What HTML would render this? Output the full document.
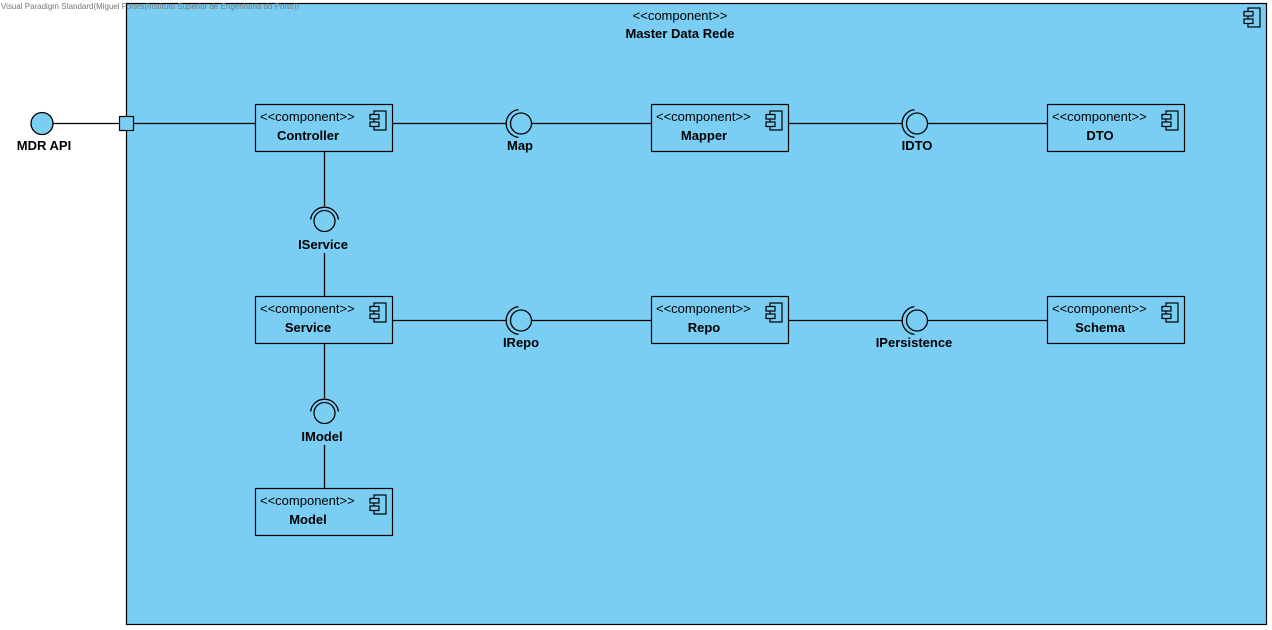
<!DOCTYPE html>
<html><head><meta charset="utf-8"><style>
html,body{margin:0;padding:0;background:#fff;}
svg{display:block;font-family:"Liberation Sans",Arial,sans-serif;}
</style></head><body>
<svg width="1272" height="630" viewBox="0 0 1272 630" xmlns="http://www.w3.org/2000/svg">
<defs>
<g id="ic">
<rect x="4" y="0" width="12" height="19" fill="none" stroke="#000" stroke-width="1.2"/>
<rect x="0" y="3.5" width="9" height="4.5" fill="#7acef4" stroke="#000" stroke-width="1.2"/>
<rect x="0" y="11" width="9" height="4.5" fill="#7acef4" stroke="#000" stroke-width="1.2"/>
</g>
<g id="hsock">
<path d="M -1.5 -13.9 A 14 14 0 0 0 -1.5 13.9" fill="none" stroke="#000" stroke-width="1.3"/>
<circle cx="1" cy="0" r="10.5" fill="#7acef4" stroke="#000" stroke-width="1.3"/>
</g>
<g id="vsock">
<path d="M -13.9 1.5 A 14 14 0 0 1 13.9 1.5" fill="none" stroke="#000" stroke-width="1.3"/>
<circle cx="0" cy="3" r="10.5" fill="#7acef4" stroke="#000" stroke-width="1.3"/>
</g>
</defs>
<rect x="126.5" y="3.5" width="1140" height="621" fill="#7acef4" stroke="#000" stroke-width="1.2"/>
<text x="1" y="9" font-size="8" fill="#777" textLength="298" lengthAdjust="spacingAndGlyphs">Visual Paradigm Standard(Miguel Fortes(Instituto Superior de Engenharia do Porto))</text>
<use href="#ic" x="1244" y="8"/>
<text x="680" y="20" font-size="13" text-anchor="middle">&lt;&lt;component&gt;&gt;</text>
<text x="680" y="38" font-size="13" font-weight="bold" text-anchor="middle">Master Data Rede</text>

<g stroke="#000" stroke-width="1.3" fill="none">
<line x1="53" y1="123.5" x2="119" y2="123.5"/>
<line x1="133" y1="123.5" x2="255" y2="123.5"/>
<line x1="392" y1="123.5" x2="506" y2="123.5"/>
<line x1="531" y1="123.5" x2="651" y2="123.5"/>
<line x1="788" y1="123.5" x2="902" y2="123.5"/>
<line x1="927" y1="123.5" x2="1047" y2="123.5"/>
<line x1="392" y1="320.5" x2="506" y2="320.5"/>
<line x1="531" y1="320.5" x2="651" y2="320.5"/>
<line x1="788" y1="320.5" x2="902" y2="320.5"/>
<line x1="927" y1="320.5" x2="1047" y2="320.5"/>
<line x1="324.5" y1="151" x2="324.5" y2="206"/>
<line x1="324.5" y1="253" x2="324.5" y2="296"/>
<line x1="324.5" y1="343" x2="324.5" y2="398"/>
<line x1="324.5" y1="445" x2="324.5" y2="488"/>
</g>
<circle cx="42" cy="123.5" r="11" fill="#7acef4" stroke="#000" stroke-width="1.3"/>
<text x="44" y="150" font-size="13" font-weight="bold" text-anchor="middle">MDR API</text>
<rect x="119.5" y="116.5" width="14" height="14" fill="#7acef4" stroke="#000" stroke-width="1.2"/>

<use href="#hsock" x="520" y="123.5"/>
<text x="520" y="150" font-size="13" font-weight="bold" text-anchor="middle">Map</text>
<use href="#hsock" x="916" y="123.5"/>
<text x="917" y="150" font-size="13" font-weight="bold" text-anchor="middle">IDTO</text>
<use href="#hsock" x="520" y="320.5"/>
<text x="521" y="347" font-size="13" font-weight="bold" text-anchor="middle">IRepo</text>
<use href="#hsock" x="916" y="320.5"/>
<text x="914" y="347" font-size="13" font-weight="bold" text-anchor="middle">IPersistence</text>
<use href="#vsock" x="324.5" y="218"/>
<text x="323" y="249" font-size="13" font-weight="bold" text-anchor="middle">IService</text>
<use href="#vsock" x="324.5" y="410"/>
<text x="322" y="441" font-size="13" font-weight="bold" text-anchor="middle">IModel</text>

<g font-size="13">
<g transform="translate(255,104)">
<rect x="0.5" y="0.5" width="137" height="47" fill="#7acef4" stroke="#000" stroke-width="1.2"/>
<text x="5" y="17">&lt;&lt;component&gt;&gt;</text>
<text x="53" y="36" font-weight="bold" text-anchor="middle">Controller</text>
<use href="#ic" x="115" y="7"/></g>
<g transform="translate(651,104)">
<rect x="0.5" y="0.5" width="137" height="47" fill="#7acef4" stroke="#000" stroke-width="1.2"/>
<text x="5" y="17">&lt;&lt;component&gt;&gt;</text>
<text x="53" y="36" font-weight="bold" text-anchor="middle">Mapper</text>
<use href="#ic" x="115" y="7"/></g>
<g transform="translate(1047,104)">
<rect x="0.5" y="0.5" width="137" height="47" fill="#7acef4" stroke="#000" stroke-width="1.2"/>
<text x="5" y="17">&lt;&lt;component&gt;&gt;</text>
<text x="53" y="36" font-weight="bold" text-anchor="middle">DTO</text>
<use href="#ic" x="115" y="7"/></g>
<g transform="translate(255,296)">
<rect x="0.5" y="0.5" width="137" height="47" fill="#7acef4" stroke="#000" stroke-width="1.2"/>
<text x="5" y="17">&lt;&lt;component&gt;&gt;</text>
<text x="53" y="36" font-weight="bold" text-anchor="middle">Service</text>
<use href="#ic" x="115" y="7"/></g>
<g transform="translate(651,296)">
<rect x="0.5" y="0.5" width="137" height="47" fill="#7acef4" stroke="#000" stroke-width="1.2"/>
<text x="5" y="17">&lt;&lt;component&gt;&gt;</text>
<text x="53" y="36" font-weight="bold" text-anchor="middle">Repo</text>
<use href="#ic" x="115" y="7"/></g>
<g transform="translate(1047,296)">
<rect x="0.5" y="0.5" width="137" height="47" fill="#7acef4" stroke="#000" stroke-width="1.2"/>
<text x="5" y="17">&lt;&lt;component&gt;&gt;</text>
<text x="53" y="36" font-weight="bold" text-anchor="middle">Schema</text>
<use href="#ic" x="115" y="7"/></g>
<g transform="translate(255,488)">
<rect x="0.5" y="0.5" width="137" height="47" fill="#7acef4" stroke="#000" stroke-width="1.2"/>
<text x="5" y="17">&lt;&lt;component&gt;&gt;</text>
<text x="53" y="36" font-weight="bold" text-anchor="middle">Model</text>
<use href="#ic" x="115" y="7"/></g>
</g>
</svg>
</body></html>
